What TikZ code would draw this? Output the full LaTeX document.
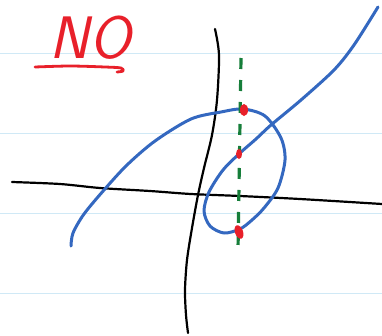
\documentclass[tikz,border=0pt]{standalone}
\usepackage{tikz}
\definecolor{inkred}{RGB}{232,32,42}
\definecolor{inkblue}{RGB}{52,104,192}
\definecolor{inkgreen}{RGB}{22,126,58}
\definecolor{ruleline}{RGB}{208,233,246}

\begin{document}
\begin{tikzpicture}[x=1pt, y=-1pt,
    rule/.style={ruleline, line width=1pt},
    axis/.style={black, line width=2.2pt, line cap=round},
    curve/.style={inkblue, line width=3pt, line cap=round, line join=round},
    probe/.style={inkgreen, line width=3.2pt, dash pattern=on 11pt off 11pt},
    hit/.style={inkred},
    ink/.style={inkred, line width=2.8pt, line cap=round, line join=round},
]
\useasboundingbox[fill=white] (0,0) rectangle (382,335);

% Notebook lines
\foreach \y in {53,133,213,293}
  \draw[rule] (0,\y) -- (382,\y);

% Title
\node[inkred, font=\fontsize{60}{60}\selectfont\sffamily\slshape, anchor=base,
      inner sep=0pt] (no) at (90,58) {NO};
\draw[ink] plot[smooth] coordinates {(35,67) (70,66) (105,67) (121,68) (123,71) (117,72)};

% Axes
\draw[axis] plot[smooth] coordinates {(12,182) (60,184) (100,188) (150,191) (191,194) (240,196) (300,199) (382,204)};
\draw[axis] plot[smooth] coordinates {(215,29) (219,55) (217,100) (212,135) (204,168) (198,195) (192,228) (187,260) (185,290) (186,315) (188,333)};

% Curve
\draw[curve] plot[smooth] coordinates {(71,246) (73,233) (84,214) (104,190) (127,165) (155,141) (191,119) (221,112) (243,109)
  (265,116) (281,138) (285,160) (278,188) (264,208) (252,220) (240,229) (224,233) (210,226) (204,211) (209,192)
  (223,170) (240,153) (256,139) (271,125) (301,100) (334,70) (354,45) (378,7)};

% Vertical probe
\coordinate (probetop) at (241,58);
\coordinate (probebot) at (238,250);
\draw[probe] (probetop) -- (probebot);

% Intersections
\coordinate (hitA) at (244,110);
\coordinate (hitB) at (239,154);
\coordinate (hitC) at (239,232);
\fill[hit] (hitA) ellipse [x radius=4pt, y radius=6pt];
\fill[hit] (hitB) ellipse [x radius=3pt, y radius=5pt];
\fill[hit, rotate around={20:(hitC)}] (hitC) ellipse [x radius=4pt, y radius=7pt];

\end{tikzpicture}
\end{document}
